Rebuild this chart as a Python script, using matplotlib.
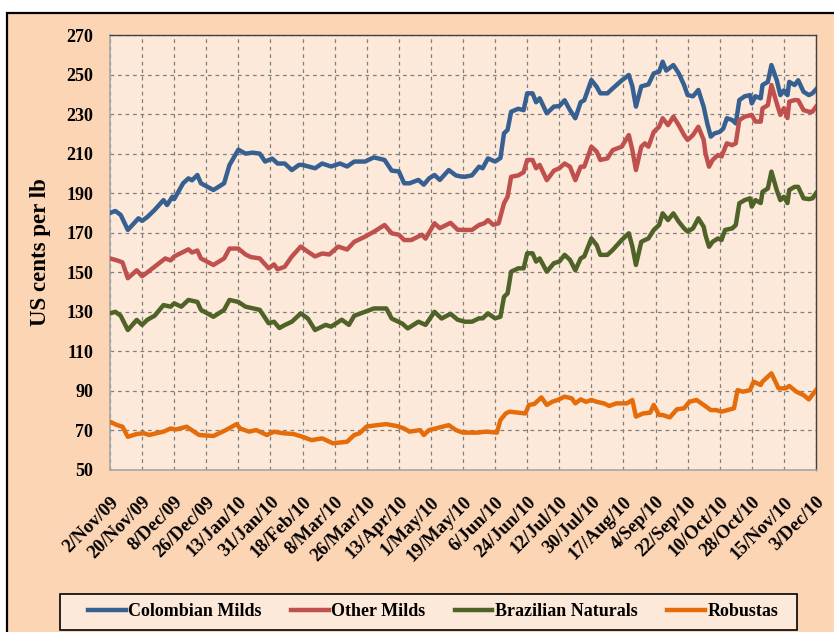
import matplotlib
matplotlib.use('Agg')
import matplotlib.pyplot as plt
import matplotlib.patches as patches
import pandas as pd

# ---------------- data ----------------
start_date = '2009-11-02'

tick_labels = ['2/Nov/09', '20/Nov/09', '8/Dec/09', '26/Dec/09', '13/Jan/10', '31/Jan/10',
               '18/Feb/10', '8/Mar/10', '26/Mar/10', '13/Apr/10', '1/May/10', '19/May/10',
               '6/Jun/10', '24/Jun/10', '12/Jul/10', '30/Jul/10', '17/Aug/10', '4/Sep/10',
               '22/Sep/10', '10/Oct/10', '28/Oct/10', '15/Nov/10', '3/Dec/10']

series_names = ['Colombian Milds', 'Other Milds', 'Brazilian Naturals', 'Robustas']

# days since 2 Nov 2009
colombian_days = [0, 3, 6, 10, 16, 18, 21, 25, 30, 32, 35, 36, 41, 44, 46, 49, 51, 58, 64, 67, 72, 76, 80, 84, 87,
                  91, 94, 98, 102, 106, 108, 115, 119, 124, 129, 133, 137, 143, 148, 154, 158, 162, 165, 168, 173,
                  176, 179, 182, 185, 190, 194, 197, 199, 203, 207, 209, 212, 216, 219, 221, 223, 225, 229, 232,
                  234, 237, 239, 241, 245, 249, 252, 255, 258, 261, 264, 266, 270, 273, 275, 279, 282, 287, 291,
                  293, 295, 298, 302, 305, 308, 310, 312, 316, 319, 322, 324, 327, 330, 333, 335, 337, 339, 342,
                  344, 346, 349, 351, 353, 356, 359, 360, 362, 365, 366, 369, 371, 374, 376, 378, 380, 381, 384,
                  386, 389, 392, 394, 396]
colombian_vals = [180, 181, 179, 171.4, 177.3, 176, 178, 181.5, 186.5, 184, 188.2, 187, 195, 197.5, 196.5, 199.2,
                  195, 191.6, 195, 204.2, 212, 210, 210.5, 210, 206, 207.5, 205, 205, 201.7, 204.3, 204.3, 202.6,
                  205, 203.5, 205, 203.5, 206, 206, 208.1, 206.8, 201.4, 201, 195, 195, 196.7, 194.3, 197.5,
                  199.2, 196.7, 201.7, 199, 198.4, 198.3, 199, 203.4, 202.6, 207.6, 206, 207.8, 220.3, 222, 231.2,
                  232.7, 232, 240.5, 240.5, 236, 238, 230.4, 233.8, 234, 237, 232, 227.9, 236, 237, 247.2, 243.8,
                  240.5, 240.5, 243, 247, 249.8, 244, 233.8, 244, 245, 250.6, 251.4, 256.5, 252, 254.8, 250.6,
                  244.7, 239.6, 239, 242.2, 233.7, 225.3, 218.6, 220.2, 221, 222.7, 227.9, 227, 225.3, 237.1, 239,
                  239.6, 235.4, 239, 238, 244.7, 246.3, 254.8, 247.1, 239.6, 242, 239.6, 246.3, 244.7, 247.1,
                  241.3, 239.6, 240.5, 242.5]

other_days = [0, 4, 7, 10, 15, 18, 21, 25, 31, 34, 36, 44, 46, 49, 51, 58, 64, 67, 72, 76, 79, 84, 89, 92, 94, 98,
              102, 107, 110, 115, 119, 123, 128, 133, 137, 143, 148, 154, 158, 162, 165, 169, 175, 177, 182, 185,
              191, 195, 199, 203, 207, 210, 212, 215, 218, 221, 223, 225, 229, 232, 234, 237, 239, 241, 245, 249,
              252, 255, 258, 261, 264, 266, 270, 273, 275, 279, 282, 287, 291, 293, 295, 298, 300, 302, 305, 308,
              310, 313, 316, 319, 322, 324, 327, 330, 333, 334, 336, 338, 341, 343, 346, 349, 351, 353, 356, 360,
              362, 365, 366, 369, 371, 374, 376, 378, 380, 381, 384, 386, 389, 392, 394, 396]
other_vals = [157, 156, 155, 147, 151, 148, 150, 152.8, 157, 156, 158, 161.6, 160, 161, 157, 153.7, 157, 162, 162,
              159, 157.7, 157, 152, 154, 151.5, 152.8, 158, 163, 161, 158, 159.5, 159, 163, 161.5, 165.4, 168,
              170.5, 173.9, 169.7, 169, 166.3, 166.3, 169, 167, 174.8, 172.3, 175, 171.5, 171.4, 171.4, 173.9,
              174.8, 176.4, 174, 174.8, 184.9, 188.2, 198.3, 199, 200.6, 206.8, 206.8, 202.6, 204.3, 196.6,
              201.4, 202.6, 205, 203.4, 196.6, 203.4, 203.4, 213.5, 211, 206.8, 207.6, 211.8, 213.5, 219.4,
              211.8, 201.7, 213.5, 215.2, 213.5, 221, 223.6, 227.9, 224.4, 228.7, 224.4, 219.4, 216.9, 219.4,
              223.6, 216.9, 210.2, 203.4, 206.8, 209.3, 208.5, 215.2, 214.3, 215.2, 227, 228.7, 229.6, 226.2,
              226.2, 232.9, 234.5, 244.7, 235.4, 229.6, 233, 228, 236.3, 237.1, 237, 232, 231.2, 231.2, 233.7]

brazil_days = [0, 3, 6, 10, 15, 18, 21, 25, 30, 34, 36, 40, 44, 49, 51, 58, 64, 67, 72, 76, 84, 89, 92, 95, 98, 102,
               107, 111, 115, 121, 124, 130, 134, 137, 143, 148, 155, 158, 164, 167, 173, 177, 182, 186, 191, 195,
               199, 203, 207, 209, 212, 216, 219, 221, 223, 225, 229, 232, 234, 237, 239, 241, 245, 249, 252, 255,
               258, 261, 264, 266, 270, 273, 275, 279, 282, 287, 291, 293, 295, 298, 300, 302, 305, 308, 310, 313,
               316, 319, 322, 324, 327, 330, 333, 334, 336, 338, 341, 343, 345, 349, 351, 353, 356, 359, 360, 362,
               365, 366, 369, 371, 374, 376, 378, 380, 381, 384, 386, 389, 392, 394, 396]
brazil_vals = [129.2, 130, 128, 120.8, 125.9, 123.4, 126, 128, 133.4, 132.6, 134.3, 132.6, 136, 135, 131, 127.5, 131,
               136, 135, 132.6, 131, 124.2, 125, 121.8, 123.3, 125, 129.2, 126.6, 120.8, 123.4, 122.5, 126, 123.4,
               128, 130, 131.7, 131.7, 126.6, 124, 121.6, 125, 123.4, 130, 126.6, 129, 126, 125, 125, 126.7, 126.7,
               129.2, 126.7, 127.5, 137.6, 139.3, 150.3, 152, 152, 159.6, 159.6, 155.4, 157, 150.3, 154.6, 155.4,
               158.8, 156.3, 151, 157, 158, 167.1, 163.7, 158.8, 158.8, 161.3, 166.3, 169.7, 163, 153.7, 165.4,
               166.3, 167.1, 171.4, 173.9, 179.8, 176.4, 179.8, 175.6, 172.2, 170.6, 172.2, 177.3, 173, 168.8,
               162.9, 165.4, 167.1, 166.3, 171.4, 172.2, 173.9, 184.9, 186.5, 187.4, 183.2, 186.5, 185, 190.7,
               192.4, 200.9, 191.5, 186.5, 188.2, 185, 191.6, 193.2, 193.2, 187.4, 187, 187.4, 190]

robusta_days = [0, 4, 7, 10, 15, 19, 22, 26, 30, 34, 37, 43, 50, 58, 65, 71, 73, 78, 82, 88, 92, 97, 103, 108, 113,
                119, 125, 133, 137, 140, 144, 150, 155, 161, 165, 168, 174, 176, 179, 183, 190, 194, 198, 206, 211,
                217, 219, 222, 224, 233, 235, 238, 242, 245, 248, 251, 255, 259, 261, 264, 267, 270, 273, 277, 280,
                284, 290, 293, 295, 299, 303, 305, 308, 310, 314, 318, 322, 325, 329, 333, 337, 340, 343, 350, 352,
                355, 359, 361, 365, 366, 371, 375, 379, 381, 385, 389, 392, 396]
robusta_vals = [74.4, 72.7, 71.9, 66.8, 68.2, 68.6, 67.7, 68.6, 69.4, 71, 70.5, 71.9, 67.7, 67.2, 70.2, 73.2, 71,
                69.4, 70.2, 67.7, 69.4, 68.6, 68.2, 66.8, 65.1, 66, 63.5, 64.3, 67.7, 68.6, 72, 72.7, 73.2, 72.2,
                71, 69.4, 70.2, 67.7, 70.2, 71.1, 72.7, 70.2, 68.9, 68.9, 69.4, 68.9, 75.3, 78.6, 79.5, 78.6, 82.9,
                83.4, 86.7, 82.9, 84.5, 85.4, 87.1, 86.2, 83.7, 85.7, 84.5, 85.4, 84.5, 83.7, 82.4, 83.7, 83.7,
                85.4, 77, 78.6, 79, 82.9, 77.8, 77.8, 76.6, 80.7, 81.2, 84.5, 85.4, 82.9, 80.3, 80.3, 79.5, 81.2,
                90.4, 89.6, 90.4, 94.7, 93, 94.7, 98.9, 91.3, 91.3, 92.5, 89.6, 87.9, 85.7, 90.4]

colors = ['#376092', '#C0504D', '#4F6228', '#E46C0A']

# ---------------- figure ----------------
W, H = 834, 632
fig = plt.figure(figsize=(W / 100, H / 100), dpi=100)
fig.patch.set_facecolor('white')
frame = patches.Rectangle((7 / W, -0.05), 1.0, (H - 13) / H + 0.05, transform=fig.transFigure,
                          facecolor='#FCD5B5', edgecolor='black', linewidth=1.6, zorder=-10)
fig.patches.append(frame)

ax = fig.add_axes([110 / W, (H - 470) / H, 706 / W, 435 / H])
ax.set_facecolor('#FDE9D9')

start = pd.Timestamp(start_date)
def to_dates(days):
    return start + pd.to_timedelta(days, unit='D')

all_days = [colombian_days, other_days, brazil_days, robusta_days]
all_vals = [colombian_vals, other_vals, brazil_vals, robusta_vals]
for name, d, v, c in zip(series_names, all_days, all_vals, colors):
    ax.plot(to_dates(d), v, color=c, lw=3.2, label=name, solid_joinstyle='round', zorder=3)

tick_dates = pd.date_range(start, periods=len(tick_labels), freq='18D')
ax.set_xlim(tick_dates[0], tick_dates[-1])
ax.set_ylim(50, 270)
ax.set_yticks(range(50, 271, 20))
ax.set_xticks(tick_dates)

font = 'Liberation Serif'
ax.set_xticklabels(tick_labels, rotation=45, ha='right', va='top', rotation_mode='anchor',
                   fontfamily=font, fontweight='bold', fontsize=13.5)
for lab in ax.get_yticklabels():
    lab.set_fontfamily(font)
    lab.set_fontweight('bold')
    lab.set_fontsize(13)
ax.tick_params(axis='x', length=0, pad=17)
ax.tick_params(axis='y', length=0, pad=12)

ax.grid(True, color='#7F7F7F', linestyle=(0, (3, 3)), linewidth=0.9, zorder=1)
ax.set_axisbelow(True)

for side in ['left', 'bottom']:
    ax.spines[side].set_color('#A6A6A6')
    ax.spines[side].set_linewidth(1.2)
for side in ['top', 'right']:
    ax.spines[side].set_color('#404040')
    ax.spines[side].set_linewidth(1.0)

ax.set_ylabel('US cents per lb', fontfamily=font, fontweight='bold', fontsize=16.5)
ax.yaxis.set_label_coords(-0.084, 0.5)

# legend box
legbox = patches.Rectangle((60 / W, 1 - 630 / H), 737 / W, 36 / H, transform=fig.transFigure,
                           facecolor='#FDE9D9', edgecolor='black', linewidth=1.2, zorder=1)
fig.patches.append(legbox)
leg = fig.legend(loc='center', bbox_to_anchor=(433 / W, 1 - 612 / H), ncol=4, frameon=False,
                 handlelength=2.1, handletextpad=0.15, columnspacing=1.6,
                 prop={'family': font, 'weight': 'bold', 'size': 13})
leg.set_zorder(5)

fig.savefig('out.png', dpi=100, facecolor=fig.get_facecolor())
